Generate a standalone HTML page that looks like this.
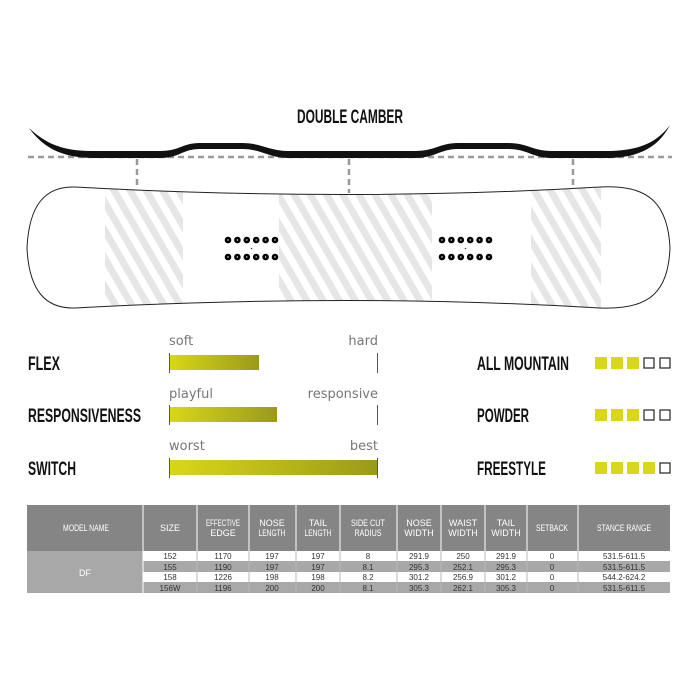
<!DOCTYPE html>
<html><head><meta charset="utf-8"><style>
html,body{margin:0;padding:0;background:#fff;width:700px;height:700px;overflow:hidden}
svg{display:block}
.c{font-family:"Liberation Sans",sans-serif;font-weight:bold}
.h{font-family:"Liberation Sans",sans-serif;fill:#fff;font-size:9px;text-anchor:middle}
.d{font-family:"Liberation Sans",sans-serif;fill:#333;font-size:8px;text-anchor:middle}
.s{font-family:"DejaVu Sans","Liberation Sans",sans-serif;fill:#777;font-size:13px}
</style></head><body>
<svg width="700" height="700" viewBox="0 0 700 700" xmlns="http://www.w3.org/2000/svg">
<defs>
<pattern id="hat" patternUnits="userSpaceOnUse" width="14" height="14" patternTransform="rotate(-30)">
<rect width="14" height="14" fill="#fff"/><rect width="7" height="14" fill="#e6e6e6"/>
</pattern>
<linearGradient id="g" x1="0" x2="1"><stop offset="0" stop-color="#d8d818"/><stop offset="1" stop-color="#9a9a1a"/></linearGradient>
<clipPath id="bd"><path d="M75 187 Q349 202 600 187 C650 184 668 205 670 248 C668 292 650 310 600 308 Q349 293 75 308 C45 309 29 290 27 248 C29 205 45 186 75 187 Z"/></clipPath>
</defs>
<text x="297" y="123" textLength="106" lengthAdjust="spacingAndGlyphs" class="c" font-size="19" fill="#111">DOUBLE CAMBER</text>
<line x1="28" y1="157" x2="672" y2="157" stroke="#999" stroke-width="2.5" stroke-dasharray="6,4"/>
<g stroke="#999" stroke-width="2.5" stroke-dasharray="6,4">
<line x1="137" y1="159" x2="137" y2="186"/><line x1="349" y1="159" x2="349" y2="193"/><line x1="573" y1="159" x2="573" y2="186"/></g>
<path d="M29 128 C50 148 70 151 95 151 L160 151 C180 151 182 143 200 143 L242 143 C262 143 268 151 290 151 L415 151 C435 151 440 143 458 143 L508 143 C528 143 532 151 552 151 L605 151 C635 151 655 145 670 125 C657 150 635 158 605 158 L552 158 C532 158 528 149 508 149 L458 149 C440 149 435 158 415 158 L290 158 C268 158 262 149 242 149 L200 149 C182 149 180 158 160 158 L95 158 C65 158 45 150 29 128 Z" fill="#111"/>
<g clip-path="url(#bd)">
<rect x="105" y="180" width="78" height="135" fill="url(#hat)"/>
<rect x="279" y="180" width="153" height="135" fill="url(#hat)"/>
<rect x="531" y="180" width="70" height="135" fill="url(#hat)"/>
</g>
<path d="M75 187 Q349 202 600 187 C650 184 668 205 670 248 C668 292 650 310 600 308 Q349 293 75 308 C45 309 29 290 27 248 C29 205 45 186 75 187 Z" fill="none" stroke="#222" stroke-width="1"/>
<g fill="#fff" stroke="#000" stroke-width="2.6">
<circle cx="228" cy="240" r="2"/><circle cx="237.4" cy="240" r="2"/><circle cx="246.8" cy="240" r="2"/><circle cx="256.2" cy="240" r="2"/><circle cx="265.6" cy="240" r="2"/><circle cx="275" cy="240" r="2"/>
<circle cx="228" cy="257" r="2"/><circle cx="237.4" cy="257" r="2"/><circle cx="246.8" cy="257" r="2"/><circle cx="256.2" cy="257" r="2"/><circle cx="265.6" cy="257" r="2"/><circle cx="275" cy="257" r="2"/>
<circle cx="442" cy="240" r="2"/><circle cx="451.4" cy="240" r="2"/><circle cx="460.8" cy="240" r="2"/><circle cx="470.2" cy="240" r="2"/><circle cx="479.6" cy="240" r="2"/><circle cx="489" cy="240" r="2"/>
<circle cx="442" cy="257" r="2"/><circle cx="451.4" cy="257" r="2"/><circle cx="460.8" cy="257" r="2"/><circle cx="470.2" cy="257" r="2"/><circle cx="479.6" cy="257" r="2"/><circle cx="489" cy="257" r="2"/>
</g>
<circle cx="251.5" cy="248.5" r="0.8" fill="#444"/><circle cx="465.5" cy="248.5" r="0.8" fill="#444"/>

<g class="c" font-size="19" fill="#111">
<text x="28" y="370" textLength="32" lengthAdjust="spacingAndGlyphs">FLEX</text>
<text x="28" y="422" textLength="113" lengthAdjust="spacingAndGlyphs">RESPONSIVENESS</text>
<text x="28" y="475" textLength="48" lengthAdjust="spacingAndGlyphs">SWITCH</text>
<text x="477" y="370" textLength="92" lengthAdjust="spacingAndGlyphs">ALL MOUNTAIN</text>
<text x="477" y="422" textLength="52" lengthAdjust="spacingAndGlyphs">POWDER</text>
<text x="477" y="475" textLength="69" lengthAdjust="spacingAndGlyphs">FREESTYLE</text>
</g>
<text x="169" y="345" class="s">soft</text><text x="378" y="345" class="s" text-anchor="end">hard</text>
<text x="169" y="398" class="s">playful</text><text x="378" y="398" class="s" text-anchor="end">responsive</text>
<text x="169" y="450" class="s">worst</text><text x="378" y="450" class="s" text-anchor="end">best</text>
<rect x="169" y="355" width="90" height="15" fill="url(#g)"/>
<rect x="169" y="407" width="108" height="15" fill="url(#g)"/>
<rect x="169" y="460" width="209" height="15" fill="url(#g)"/>
<g stroke="#555" stroke-width="1">
<line x1="169.5" y1="353" x2="169.5" y2="373"/><line x1="377.5" y1="353" x2="377.5" y2="373"/>
<line x1="169.5" y1="405" x2="169.5" y2="425"/><line x1="377.5" y1="405" x2="377.5" y2="425"/>
<line x1="169.5" y1="458" x2="169.5" y2="478"/><line x1="377.5" y1="458" x2="377.5" y2="478"/>
</g>
<g fill="#d8d818">
<rect x="595" y="357" width="12" height="12"/><rect x="611" y="357" width="12" height="12"/><rect x="627" y="357" width="12" height="12"/>
<rect x="595" y="409" width="12" height="12"/><rect x="611" y="409" width="12" height="12"/><rect x="627" y="409" width="12" height="12"/>
<rect x="595" y="462" width="12" height="12"/><rect x="611" y="462" width="12" height="12"/><rect x="627" y="462" width="12" height="12"/><rect x="643" y="462" width="12" height="12"/>
</g>
<g fill="none" stroke="#222" stroke-width="1.2">
<rect x="644" y="358" width="10" height="10"/><rect x="660" y="358" width="10" height="10"/>
<rect x="644" y="410" width="10" height="10"/><rect x="660" y="410" width="10" height="10"/>
<rect x="660" y="463" width="10" height="10"/>
</g>

<rect x="27" y="505" width="643" height="46" fill="#858585"/>
<rect x="27" y="551" width="116" height="42" fill="#a8a8a8"/>
<rect x="143" y="561" width="527" height="11" fill="#a8a8a8"/>
<rect x="143" y="582" width="527" height="11" fill="#a8a8a8"/>
<g stroke="#fff" stroke-width="1">
<line x1="143" y1="505" x2="143" y2="593"/><line x1="197" y1="505" x2="197" y2="593"/><line x1="249" y1="505" x2="249" y2="593"/><line x1="296" y1="505" x2="296" y2="593"/><line x1="340" y1="505" x2="340" y2="593"/><line x1="397" y1="505" x2="397" y2="593"/><line x1="441" y1="505" x2="441" y2="593"/><line x1="485" y1="505" x2="485" y2="593"/><line x1="527" y1="505" x2="527" y2="593"/><line x1="578" y1="505" x2="578" y2="593"/>
</g>
<g stroke="#888" stroke-width="0.6">
<line x1="197" y1="551" x2="197" y2="593"/><line x1="249" y1="551" x2="249" y2="593"/><line x1="296" y1="551" x2="296" y2="593"/><line x1="340" y1="551" x2="340" y2="593"/><line x1="397" y1="551" x2="397" y2="593"/><line x1="441" y1="551" x2="441" y2="593"/><line x1="485" y1="551" x2="485" y2="593"/><line x1="527" y1="551" x2="527" y2="593"/><line x1="578" y1="551" x2="578" y2="593"/>
</g>
<g class="h">
<text x="63" y="531" textLength="46" lengthAdjust="spacingAndGlyphs" text-anchor="start">MODEL NAME</text>
<text x="170" y="531">SIZE</text>
<text x="223" y="526" textLength="34" lengthAdjust="spacingAndGlyphs">EFFECTIVE</text><text x="223" y="536">EDGE</text>
<text x="272" y="526">NOSE</text><text x="272" y="536" textLength="27" lengthAdjust="spacingAndGlyphs">LENGTH</text>
<text x="318" y="526">TAIL</text><text x="318" y="536" textLength="27" lengthAdjust="spacingAndGlyphs">LENGTH</text>
<text x="368" y="526" textLength="34" lengthAdjust="spacingAndGlyphs">SIDE CUT</text><text x="368" y="536" textLength="27" lengthAdjust="spacingAndGlyphs">RADIUS</text>
<text x="419" y="526">NOSE</text><text x="419" y="536">WIDTH</text>
<text x="463" y="526">WAIST</text><text x="463" y="536">WIDTH</text>
<text x="506" y="526">TAIL</text><text x="506" y="536">WIDTH</text>
<text x="552" y="531" textLength="32" lengthAdjust="spacingAndGlyphs">SETBACK</text>
<text x="624" y="531" textLength="54" lengthAdjust="spacingAndGlyphs">STANCE RANGE</text>
<text x="85" y="576">DF</text>
</g>
<g class="d">
<text x="170" y="559">152</text><text x="223" y="559">1170</text><text x="272" y="559">197</text><text x="318" y="559">197</text><text x="368" y="559">8</text><text x="419" y="559">291.9</text><text x="463" y="559">250</text><text x="506" y="559">291.9</text><text x="552" y="559">0</text><text x="624" y="559">531.5-611.5</text>
<text x="170" y="570">155</text><text x="223" y="570">1190</text><text x="272" y="570">197</text><text x="318" y="570">197</text><text x="368" y="570">8.1</text><text x="419" y="570">295.3</text><text x="463" y="570">252.1</text><text x="506" y="570">295.3</text><text x="552" y="570">0</text><text x="624" y="570">531.5-611.5</text>
<text x="170" y="580">158</text><text x="223" y="580">1226</text><text x="272" y="580">198</text><text x="318" y="580">198</text><text x="368" y="580">8.2</text><text x="419" y="580">301.2</text><text x="463" y="580">256.9</text><text x="506" y="580">301.2</text><text x="552" y="580">0</text><text x="624" y="580">544.2-624.2</text>
<text x="170" y="591">156W</text><text x="223" y="591">1196</text><text x="272" y="591">200</text><text x="318" y="591">200</text><text x="368" y="591">8.1</text><text x="419" y="591">305.3</text><text x="463" y="591">262.1</text><text x="506" y="591">305.3</text><text x="552" y="591">0</text><text x="624" y="591">531.5-611.5</text>
</g>
</svg>
</body></html>
